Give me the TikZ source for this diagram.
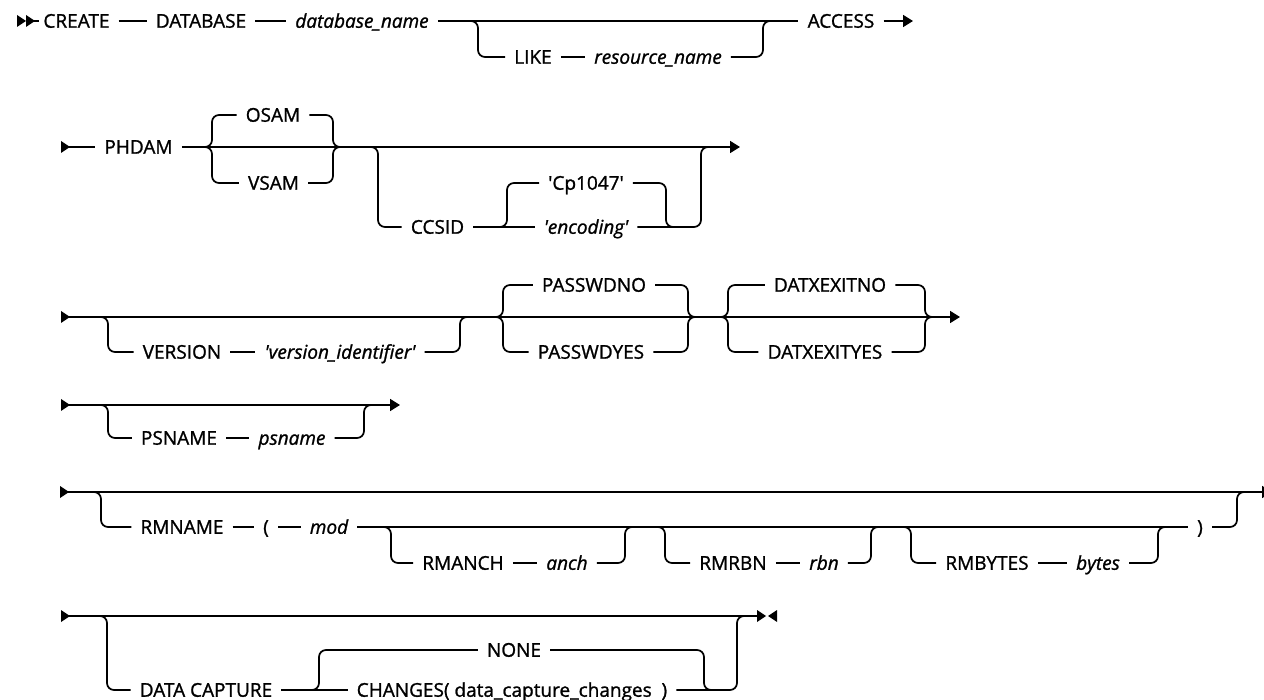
\documentclass[tikz,border=0pt]{standalone}
\usepackage{fontspec}
\setmainfont{Open Sans}[FakeBold=1.2]
\usetikzlibrary{arrows.meta}
\newcommand{\railtri}[2]{\fill (#1,#2-6) -- (#1+9,#2) -- (#1,#2+6) -- cycle;}
\newcommand{\railltri}[2]{\fill (#1,#2-6) -- (#1-9,#2) -- (#1,#2+6) -- cycle;}
\begin{document}
\begin{tikzpicture}[x=1pt,y=-1pt,
  track/.style={line width=1.7pt, rounded corners=7pt},
  endarrow/.style={-{Triangle[length=10pt,width=12pt]}},
  kw/.style={font=\fontsize{19}{19}\selectfont, inner xsep=9pt, inner ysep=0pt, text height=13.5pt, text depth=0pt},
  var/.style={kw, font=\fontsize{19}{19}\selectfont\itshape}]
\useasboundingbox (0,0) rectangle (1264,700);

% ---------- row 1 ----------
\railtri{17}{21}
\railtri{26}{21}
\node[kw] (create) at (76.5,21) {CREATE};
\node[kw] (database) at (201,21) {DATABASE};
\node[var] (dbname) at (362,21) {database\_name};
\node[kw] (like) at (533,57) {LIKE};
\node[var] (resname) at (658,57) {resource\_name};
\node[kw] (access) at (841,21) {ACCESS};
\coordinate (s1) at (33,21);
\coordinate (e1) at (913,21);
\draw[track] (s1) -- (39,21);
\draw[track] (create) -- (database);
\draw[track] (database) -- (dbname);
\draw[track] (dbname) -- (access);
\draw[track] (470,21) -- (478,21) -- (478,57) -- (like);
\draw[track] (like) -- (resname);
\draw[track] (resname) -- (763,57) -- (763,21) -- (771,21);
\draw[track,endarrow] (access) -- (e1);

% ---------- row 2 ----------
\railtri{61}{147}
\node[kw] (phdam) at (138.5,147) {PHDAM};
\node[kw] (osam) at (273,115) {OSAM};
\node[kw] (vsam) at (273.5,183) {VSAM};
\node[kw] (ccsid) at (437.5,227) {CCSID};
\node[kw] (cp) at (586,183) {\textquotesingle Cp1047\textquotesingle};
\node[var] (enc) at (586,227) {\textquotesingle encoding\textquotesingle};
\coordinate (s2) at (69,147);
\coordinate (e2) at (740,147);
\draw[track] (s2) -- (phdam);
\draw[track,endarrow] (phdam) -- (e2);
\draw[track] (204,147) -- (212,147) -- (212,115) -- (osam);
\draw[track] (204,147) -- (212,147) -- (212,183) -- (vsam);
\draw[track] (osam) -- (333,115) -- (333,147) -- (341,147);
\draw[track] (vsam) -- (333,183) -- (333,147) -- (341,147);
\draw[track] (370,147) -- (378,147) -- (378,227) -- (ccsid);
\draw[track] (ccsid) -- (enc);
\draw[track] (499,227) -- (507,227) -- (507,183) -- (cp);
\draw[track] (cp) -- (666,183) -- (666,227) -- (674,227);
\draw[track] (enc) -- (701,227) -- (701,147) -- (709,147);

% ---------- row 3 ----------
\railtri{61}{317}
\node[kw] (version) at (182,352) {VERSION};
\node[var] (verid) at (340,352) {\textquotesingle version\_identifier\textquotesingle};
\node[kw] (pwno) at (594,285) {PASSWDNO};
\node[kw] (pwyes) at (591,352) {PASSWDYES};
\node[kw] (dxno) at (830,285) {DATXEXITNO};
\node[kw] (dxyes) at (825,352) {DATXEXITYES};
\coordinate (s3) at (69,317);
\coordinate (e3) at (960,317);
\draw[track,endarrow] (s3) -- (e3);
\draw[track] (100,317) -- (108,317) -- (108,352) -- (version);
\draw[track] (version) -- (verid);
\draw[track] (verid) -- (460,352) -- (460,317) -- (468,317);
\draw[track] (495,317) -- (503,317) -- (503,285) -- (pwno);
\draw[track] (495,317) -- (503,317) -- (503,352) -- (pwyes);
\draw[track] (pwno) -- (688,285) -- (688,317) -- (696,317);
\draw[track] (pwyes) -- (688,352) -- (688,317) -- (696,317);
\draw[track] (720,317) -- (728,317) -- (728,285) -- (dxno);
\draw[track] (720,317) -- (728,317) -- (728,352) -- (dxyes);
\draw[track] (dxno) -- (925,285) -- (925,317) -- (933,317);
\draw[track] (dxyes) -- (925,352) -- (925,317) -- (933,317);

% ---------- row 4 ----------
\railtri{61}{405}
\node[kw] (psname) at (179,438) {PSNAME};
\node[var] (psvar) at (292,438) {psname};
\coordinate (s4) at (69,405);
\coordinate (e4) at (400,405);
\draw[track,endarrow] (s4) -- (e4);
\draw[track] (100,405) -- (108,405) -- (108,438) -- (psname);
\draw[track] (psname) -- (psvar);
\draw[track] (psvar) -- (364,438) -- (364,405) -- (372,405);

% ---------- row 5 ----------
\railtri{60}{492}
\node[kw] (rmname) at (182,527) {RMNAME};
\node[kw] (lpar) at (266,527) {(};
\node[var] (mod) at (329,527) {mod};
\node[kw] (rpar) at (1200,527) {)};
\node[kw] (rmanch) at (463,563) {RMANCH};
\node[var] (anch) at (567,563) {anch};
\node[kw] (rmrbn) at (733,563) {RMRBN};
\node[var] (rbn) at (824,563) {rbn};
\node[kw] (rmbytes) at (987,563) {RMBYTES};
\node[var] (bytes) at (1098,563) {bytes};
\coordinate (s5) at (68,492);
\coordinate (e5) at (1272,492);
\draw[track,endarrow] (s5) -- (e5);
\draw[track] (93,492) -- (101,492) -- (101,527) -- (rmname);
\draw[track] (rmname) -- (lpar);
\draw[track] (lpar) -- (mod);
\draw[track] (mod) -- (rpar);
\draw[track] (rpar) -- (1237,527) -- (1237,492) -- (1245,492);
\draw[track] (383,527) -- (391,527) -- (391,563) -- (rmanch);
\draw[track] (rmanch) -- (anch);
\draw[track] (anch) -- (625,563) -- (625,527) -- (633,527);
\draw[track] (657,527) -- (665,527) -- (665,563) -- (rmrbn);
\draw[track] (rmrbn) -- (rbn);
\draw[track] (rbn) -- (871,563) -- (871,527) -- (879,527);
\draw[track] (903,527) -- (911,527) -- (911,563) -- (rmbytes);
\draw[track] (rmbytes) -- (bytes);
\draw[track] (bytes) -- (1158,563) -- (1158,527) -- (1166,527);

% ---------- row 6 ----------
\railtri{61}{616}
\node[kw] (datacap) at (206,690) {DATA CAPTURE};
\node[kw] (none) at (514,650) {NONE};
\node[kw] (changes) at (512,690) {CHANGES( data\_capture\_changes\ \ )};
\coordinate (s6) at (69,616);
\coordinate (e6) at (758,616);
\draw[track] (s6) -- (e6);
\railtri{757}{616}
\railltri{777}{616}
\draw[track] (99,616) -- (107,616) -- (107,690) -- (datacap);
\draw[track] (datacap) -- (changes);
\draw[track] (311,690) -- (319,690) -- (319,650) -- (none);
\draw[track] (none) -- (704,650) -- (704,690) -- (712,690);
\draw[track] (changes) -- (737,690) -- (737,616) -- (745,616);
\end{tikzpicture}
\end{document}
